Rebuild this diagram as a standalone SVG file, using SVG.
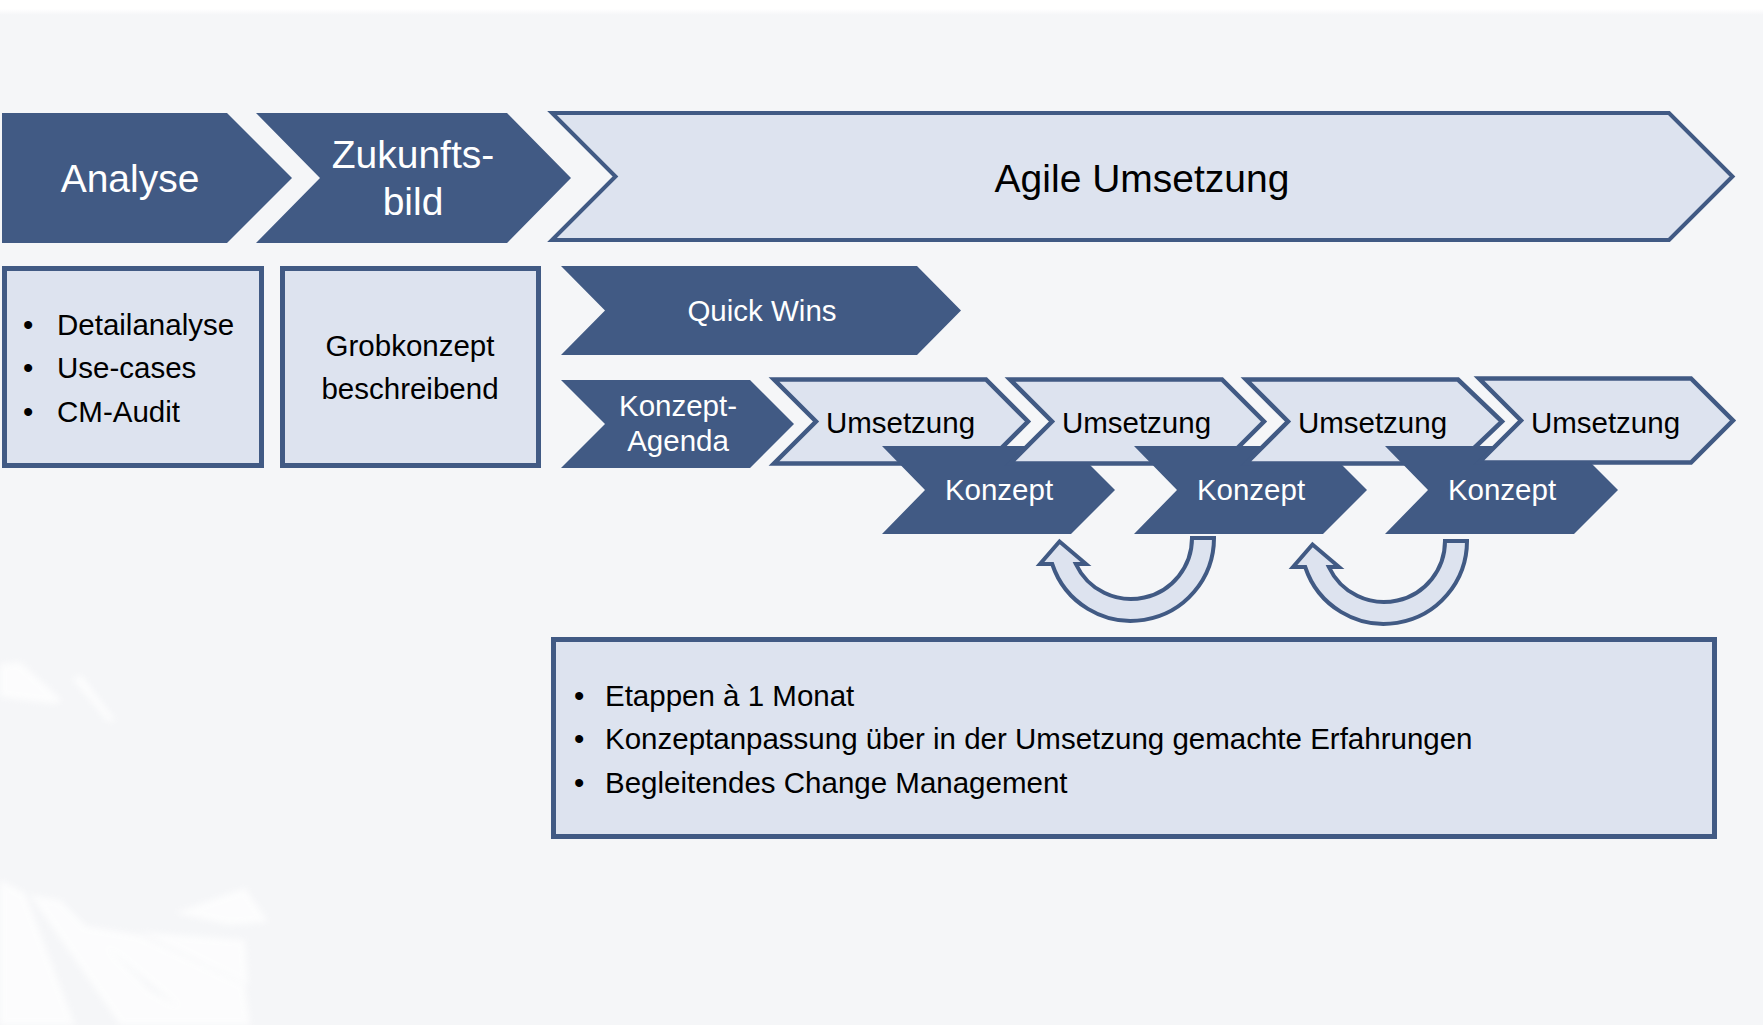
<svg xmlns="http://www.w3.org/2000/svg" width="1763" height="1025" viewBox="0 0 1763 1025">
<defs>
<style>
.dark{fill:#415A84;}
.lightS{fill:#DDE3EF;stroke:#415A84;stroke-width:4.5;stroke-linejoin:miter;}
.box{fill:#DDE3EF;stroke:#415A84;stroke-width:5;}
.cycle{fill:#DDE3EF;stroke:#415A84;stroke-width:4;stroke-linejoin:miter;}
text{font-family:"Liberation Sans",Arial,Helvetica,sans-serif;}
.big{font-size:39px;}
.mid{font-size:29.5px;}
.w{fill:#FFFFFF;}
.b{fill:#000000;}
.c{text-anchor:middle;}
</style>
<linearGradient id="topfade" x1="0" y1="0" x2="0" y2="1">
<stop offset="0" stop-color="#FFFFFF"/>
<stop offset="1" stop-color="#F5F6F8"/>
</linearGradient>
<filter id="soft" x="-20%" y="-20%" width="140%" height="140%"><feGaussianBlur stdDeviation="3"/></filter>
</defs>
<rect x="0" y="0" width="1763" height="1025" fill="#F5F6F8"/>
<rect x="0" y="0" width="1763" height="9" fill="#FFFFFF"/>
<rect x="0" y="9" width="1763" height="6" fill="url(#topfade)"/>
<g opacity="0.75" filter="url(#soft)" fill="#FFFFFF">
<polygon points="0,664 20,662 62,700 55,704 0,697"/>
<polygon points="72,678 82,676 115,720 108,722"/>
<polygon points="0,880 25,893 75,1025 0,1025"/>
<polygon points="30,895 60,900 150,990 210,1025 120,1025"/>
<polygon points="80,925 140,935 245,985 250,1025 200,1025"/>
<polygon points="175,913 245,888 268,922 230,925"/>
<polygon points="140,932 245,940 248,985"/>
</g>

<g id="analyse">
<polygon class="dark" points="2,113 227,113 292,178 227,243 2,243"/>
<text class="big w c" x="130" y="192">Analyse</text>
</g>
<g id="zukunftsbild">
<polygon class="dark" points="256,113 507,113 571,178 507,243 256,243 320,178"/>
<text class="big w c" x="413" y="168">Zukunfts-</text>
<text class="big w c" x="413" y="215">bild</text>
</g>
<g id="agile-umsetzung">
<polygon fill="#DDE3EF" stroke="#415A84" stroke-width="4" points="552,113 1669,113 1732.5,176.5 1669,240 552,240 615.5,176.5"/>
<text class="big b c" x="1142" y="192">Agile Umsetzung</text>
</g>

<g id="box-analyse">
<rect class="box" x="4.5" y="268.5" width="257" height="197"/>
<text class="mid b" x="23" y="335">•</text>
<text class="mid b" x="57" y="335">Detailanalyse</text>
<text class="mid b" x="23" y="378">•</text>
<text class="mid b" x="57" y="378">Use-cases</text>
<text class="mid b" x="23" y="422">•</text>
<text class="mid b" x="57" y="422">CM-Audit</text>
</g>
<g id="box-grobkonzept">
<rect class="box" x="282.5" y="268.5" width="256" height="197"/>
<text class="mid b c" x="410" y="356">Grobkonzept</text>
<text class="mid b c" x="410" y="399">beschreibend</text>
</g>

<g id="quick-wins">
<polygon class="dark" points="561,266 917,266 961,310.5 917,355 561,355 605,310.5"/>
<text class="mid w c" x="762" y="321">Quick Wins</text>
</g>
<g id="konzept-agenda">
<polygon class="dark" points="561,380 750,380 794,424 750,468 561,468 605,424"/>
<text class="mid w c" x="678" y="416">Konzept-</text>
<text class="mid w c" x="678" y="451">Agenda</text>
</g>

<g id="umsetzung1" transform="translate(774,0)">
<polygon class="lightS" points="0,379.5 212,379.5 254,421.5 212,463.5 0,463.5 42,421.5"/>
<text class="mid b c" x="126.5" y="433">Umsetzung</text>
</g>
<g id="konzept1" transform="translate(882,0)">
<polygon class="dark" points="0,446 189,446 233,490 189,534 0,534 43,490"/>
<text class="mid w c" x="117" y="500">Konzept</text>
</g>
<g id="umsetzung2" transform="translate(1010,0)">
<polygon class="lightS" points="0,379.5 212,379.5 254,421.5 212,463.5 0,463.5 42,421.5"/>
<text class="mid b c" x="126.5" y="433">Umsetzung</text>
</g>
<g id="konzept2" transform="translate(1134,0)">
<polygon class="dark" points="0,446 189,446 233,490 189,534 0,534 43,490"/>
<text class="mid w c" x="117" y="500">Konzept</text>
</g>
<g id="umsetzung3" transform="translate(1246,0)">
<polygon class="lightS" points="0,379.5 212,379.5 256,421.5 212,463.5 0,463.5 42,421.5"/>
<text class="mid b c" x="126.5" y="433">Umsetzung</text>
</g>
<g id="konzept3" transform="translate(1385,0)">
<polygon class="dark" points="0,446 189,446 233,490 189,534 0,534 43,490"/>
<text class="mid w c" x="117" y="500">Konzept</text>
</g>
<g id="umsetzung4" transform="translate(1479,0)">
<polygon class="lightS" points="0,378.5 212,378.5 254,420.5 212,462.5 0,462.5 42,420.5"/>
<text class="mid b c" x="126.5" y="433">Umsetzung</text>
</g>

<g id="connectors">
<path class="cycle" d="M1192,538 L1214,538 A83,83 0 0 1 1052.2,564 L1040,564 L1059.5,541.5 L1086,564 L1075.8,564 A61,61 0 0 0 1192,538 Z"/>
<path class="cycle" transform="translate(253,3)" d="M1192,538 L1214,538 A83,83 0 0 1 1052.2,564 L1040,564 L1059.5,541.5 L1086,564 L1075.8,564 A61,61 0 0 0 1192,538 Z"/>
</g>

<g id="info-box">
<rect class="box" x="553.5" y="639.5" width="1161" height="197"/>
<text class="mid b" x="574" y="706">•</text>
<text class="mid b" x="605" y="706">Etappen à 1 Monat</text>
<text class="mid b" x="574" y="749">•</text>
<text class="mid b" x="605" y="749">Konzeptanpassung über in der Umsetzung gemachte Erfahrungen</text>
<text class="mid b" x="574" y="793">•</text>
<text class="mid b" x="605" y="793">Begleitendes Change Management</text>
</g>
</svg>
